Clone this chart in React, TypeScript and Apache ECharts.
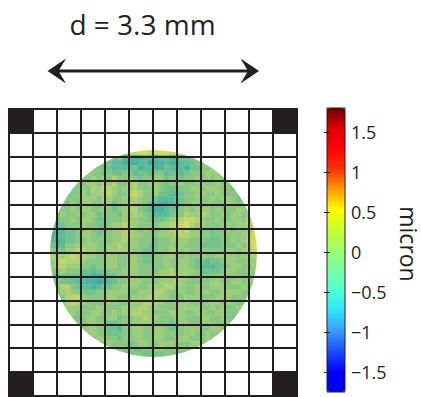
import React, { useEffect, useRef } from "react";
import * as echarts from "echarts";

const INK = "#231f20";
const FONT = "'Open Sans', sans-serif";

const TITLE = "d = 3.3 mm";
const UNIT = "micron";

// colour bar (micron)
const BAR_MIN = -1.75;
const BAR_MAX = 1.8;
const BAR_TICKS = [-1.5, -1, -0.5, 0, 0.5, 1, 1.5];
const BAR_COLORS = [
  "#0000e6", "#0000ff", "#1a4cff", "#3a9aff", "#2ee6ff", "#52ffd4", "#7affa6",
  "#9cff6c", "#c8ff30", "#ffff00", "#ff9a00", "#ff3300", "#ff0000", "#e00000", "#6a0000",
];

// 12 x 12 aperture grid with blocked corner cells [col, row from bottom]
const GRID_CELLS = 12;
const CORNER_CELLS = [
  [0, 11],
  [11, 11],
  [0, 0],
  [11, 0],
];

// surface height levels (micron), indexed by the digits below
const LEVELS = [-0.6, -0.5, -0.4, -0.3, -0.2, -0.1, 0, 0.1, 0.2, 0.3];
const LEVEL_COLORS = [
  "#2aa6a8", "#37ada6", "#48b4a0", "#5cbb98", "#72c28e",
  "#88c884", "#9ccd7b", "#b0d272", "#c3d769", "#d4dc60",
];

// sampled surface, 40 x 40 over the disk: [first column, level digits]
const SURFACE_SIZE = 40;
const SURFACE_ROWS: [number, string][] = [
  [13, "77889988998877"],
  [11, "645332233233224456"],
  [9, "5543322233122322334555"],
  [7, "65544333442332243332445566"],
  [6, "5655454455344355344345556665"],
  [5, "555656575565455664554556565655"],
  [4, "45566576755675566545565566556554"],
  [3, "5556576876566765565444556656665545"],
  [3, "4556566786557875564433455665565555"],
  [2, "455566657655667655433344556556566545"],
  [2, "546566556645576654322334566565556655"],
  [1, "55565665565456775432234456566656555665"],
  [1, "46556566455546676543334557667655656656"],
  [0, "5455656654455566655444567788765565566576"],
  [0, "4445556554456676655556678897665556656677"],
  [0, "3334455654456677656556678786655455656678"],
  [0, "2334456654556677665556667776655455565679"],
  [0, "3234455655556676655545566665554445565689"],
  [0, "4335566665566766655445565655544445556579"],
  [0, "5546677665566666554445566565555555665678"],
  [0, "7767877665566556654455665565565566665667"],
  [0, "6787776555566556654455655665443445665566"],
  [0, "6776665545566556655555665665433344566556"],
  [0, "5565554434455566655556676666544445665565"],
  [0, "4444443322 3445566555 6667666555 5566555555"],
  [0, "5544433221 2345566655 5666765555 5665566565"],
  [0, "6577543323 4455666556 6677665565 5666555665"],
  [1, "5676554455 6666556667 7655655666 55666655"],
  [1, "5578865555 6655566677 6655566655 56665556"],
  [2, "5787655556 6556667766 5566655566 656655"],
  [2, "5666555665 5566677665 5556666556 565565"],
  [3, "5655566556 5667766555 6665566556 6555"],
  [3, "5545665566 4556676655 5665556655 6545"],
  [4, "5556655445 5566665554 5665566555 65"],
  [5, "5566554435 5665566544 5666556655"],
  [6, "5665544455 6655665555 66556556"],
  [7, "5566554556 6556655566 555655"],
  [9, "5565554566 5566655566 55"],
  [11, "4555544556 65565554"],
  [13, "4445544445 5444"],
];

const SURFACE_INDEX = Array.from({ length: SURFACE_SIZE }, (_, i) => i);

const surfaceData: number[][] = [];
SURFACE_ROWS.forEach(([start, digits], row) => {
  digits
    .replace(/ /g, "")
    .split("")
    .forEach((ch, k) => {
      surfaceData.push([start + k, row, LEVELS[Number(ch)]]);
    });
});

// white cover around the circular aperture (square with a round hole)
const APERTURE_PATH =
  "M0 0H288V287H0Z M144.5 41A103.5 103.5 0 0 0 144.5 248A103.5 103.5 0 0 0 144.5 41Z";
echarts.graphic.registerShape("aperture", echarts.graphic.extendPath(APERTURE_PATH, {}));

const minus = (v: number) => String(v).replace("-", "\u2212");

const option = {
  animation: false,
  backgroundColor: "#ffffff",
  grid: [
    {
      left: 9,
      top: 109,
      width: 288,
      height: 287,
      show: true,
      borderColor: INK,
      borderWidth: 2,
      backgroundColor: "transparent",
      z: 10,
    },
    { left: 50, top: 150, width: 207, height: 207 },
    {
      left: 327,
      top: 108,
      width: 18,
      height: 284,
      show: true,
      borderColor: INK,
      borderWidth: 1,
      backgroundColor: "transparent",
      z: 10,
    },
  ],
  xAxis: [
    {
      gridIndex: 0,
      type: "value",
      min: 0,
      max: GRID_CELLS,
      interval: 1,
      axisLine: { show: false },
      axisTick: { show: false },
      axisLabel: { show: false },
      splitLine: { show: true, lineStyle: { color: INK, width: 2 } },
      z: 10,
    },
    { gridIndex: 1, type: "category", data: SURFACE_INDEX, show: false },
    { gridIndex: 2, type: "value", min: 0, max: 1, show: false },
  ],
  yAxis: [
    {
      gridIndex: 0,
      type: "value",
      min: 0,
      max: GRID_CELLS,
      interval: 1,
      axisLine: { show: false },
      axisTick: { show: false },
      axisLabel: { show: false },
      splitLine: { show: true, lineStyle: { color: INK, width: 2 } },
      z: 10,
    },
    { gridIndex: 1, type: "category", data: SURFACE_INDEX, inverse: true, show: false },
    {
      gridIndex: 2,
      type: "value",
      min: BAR_MIN,
      max: BAR_MAX,
      position: "right",
      axisLine: { show: false },
      splitLine: { show: false },
      axisTick: {
        show: true,
        inside: true,
        length: 3,
        customValues: BAR_TICKS,
        lineStyle: { color: INK, width: 1 },
      },
      axisLabel: {
        show: true,
        customValues: BAR_TICKS,
        margin: 6,
        formatter: minus,
        fontFamily: FONT,
        fontSize: 18,
        color: INK,
      },
      z: 12,
    },
    {
      gridIndex: 2,
      type: "value",
      min: BAR_MIN,
      max: BAR_MAX,
      position: "left",
      axisLine: { show: false },
      splitLine: { show: false },
      axisLabel: { show: false },
      axisTick: {
        show: true,
        inside: true,
        length: 3,
        customValues: BAR_TICKS,
        lineStyle: { color: INK, width: 1 },
      },
      z: 12,
    },
  ],
  visualMap: [
    {
      type: "continuous",
      show: false,
      seriesIndex: 0,
      min: LEVELS[0],
      max: LEVELS[LEVELS.length - 1],
      inRange: { color: LEVEL_COLORS },
    },
    {
      type: "continuous",
      seriesIndex: 2,
      min: BAR_MIN,
      max: BAR_MAX,
      left: 327,
      top: 108,
      itemWidth: 18,
      itemHeight: 284,
      padding: 0,
      calculable: false,
      hoverLink: false,
      inRange: { color: BAR_COLORS },
    },
  ],
  series: [
    {
      type: "heatmap",
      xAxisIndex: 1,
      yAxisIndex: 1,
      data: surfaceData,
      z: 1,
      silent: true,
      itemStyle: { borderWidth: 0 },
      emphasis: { disabled: true },
    },
    {
      type: "custom",
      xAxisIndex: 0,
      yAxisIndex: 0,
      data: CORNER_CELLS,
      z: 15,
      silent: true,
      renderItem: (_params: any, api: any) => {
        const x = api.value(0);
        const y = api.value(1);
        const p0 = api.coord([x, y + 1]);
        const p1 = api.coord([x + 1, y]);
        return {
          type: "rect",
          shape: { x: p0[0], y: p0[1], width: p1[0] - p0[0], height: p1[1] - p0[1] },
          style: { fill: INK },
        };
      },
    },
    { type: "scatter", xAxisIndex: 2, yAxisIndex: 2, data: [] },
  ],
  graphic: [
    {
      type: "aperture",
      x: 9,
      y: 109,
      z: 5,
      silent: true,
      style: { fill: "#ffffff" },
    },
    {
      type: "line",
      z: 20,
      shape: { x1: 56, y1: 71, x2: 251, y2: 71 },
      style: { stroke: INK, lineWidth: 3 },
    },
    {
      type: "polygon",
      z: 20,
      shape: { points: [[47.5, 71], [66, 58.5], [58.5, 71], [66, 83.5]] },
      style: { fill: INK },
    },
    {
      type: "polygon",
      z: 20,
      shape: { points: [[259, 71], [240.5, 58.5], [248, 71], [240.5, 83.5]] },
      style: { fill: INK },
    },
    {
      type: "text",
      z: 20,
      x: 142.5,
      y: 24,
      style: {
        text: TITLE,
        font: `28px ${FONT}`,
        fill: INK,
        align: "center",
        verticalAlign: "middle",
      },
    },
    {
      type: "text",
      z: 20,
      x: 409,
      y: 244,
      rotation: -Math.PI / 2,
      style: {
        text: UNIT,
        font: `23px ${FONT}`,
        lineHeight: 18,
        fill: INK,
        align: "center",
        verticalAlign: "middle",
      },
    },
  ],
};

export default function App() {
  const ref = useRef<HTMLDivElement>(null);
  useEffect(() => {
    const chart = echarts.init(ref.current!, null, { renderer: "svg" });
    chart.setOption(option as any);
    return () => chart.dispose();
  }, []);
  return (
    <div
      ref={ref}
      style={{ position: "fixed", left: 0, top: 0, width: 421, height: 397, background: "#ffffff" }}
    />
  );
}
